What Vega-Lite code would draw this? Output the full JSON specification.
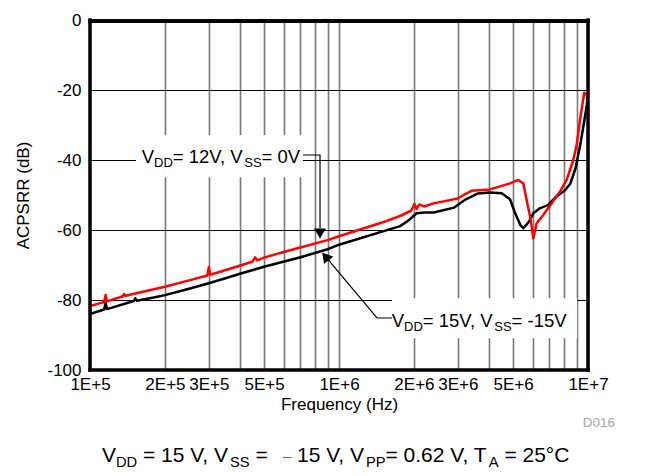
{
  "$schema": "https://vega.github.io/schema/vega-lite/v6.json",
  "width": 498,
  "height": 350,
  "autosize": {"type": "none"},
  "padding": {"left": 90, "top": 20, "right": 59, "bottom": 106},
  "background": "white",
  "config": {
    "font": "Liberation Sans",
    "view": {"stroke": null}
  },
  "datasets": {
    "one": [{}],
    "curves": [
      {"s": "r", "f": 100000, "db": -81.7},
      {"s": "r", "f": 110000, "db": -80.9},
      {"s": "r", "f": 114000, "db": -80.6},
      {"s": "r", "f": 115500, "db": -78.6},
      {"s": "r", "f": 117000, "db": -80.4},
      {"s": "r", "f": 135000, "db": -79.0},
      {"s": "r", "f": 137000, "db": -78.3},
      {"s": "r", "f": 139000, "db": -78.8},
      {"s": "r", "f": 160000, "db": -77.8},
      {"s": "r", "f": 200000, "db": -76.2},
      {"s": "r", "f": 250000, "db": -74.4},
      {"s": "r", "f": 296000, "db": -73.0},
      {"s": "r", "f": 300000, "db": -70.6},
      {"s": "r", "f": 304000, "db": -72.8},
      {"s": "r", "f": 400000, "db": -70.2},
      {"s": "r", "f": 450000, "db": -69.0},
      {"s": "r", "f": 460000, "db": -67.8},
      {"s": "r", "f": 470000, "db": -68.7},
      {"s": "r", "f": 500000, "db": -67.9},
      {"s": "r", "f": 600000, "db": -66.3},
      {"s": "r", "f": 700000, "db": -65.0},
      {"s": "r", "f": 900000, "db": -62.9},
      {"s": "r", "f": 1000000, "db": -61.8},
      {"s": "r", "f": 1500000, "db": -57.8},
      {"s": "r", "f": 1760000, "db": -56.0},
      {"s": "r", "f": 1950000, "db": -54.5},
      {"s": "r", "f": 2010000, "db": -52.6},
      {"s": "r", "f": 2050000, "db": -54.0},
      {"s": "r", "f": 2100000, "db": -52.7},
      {"s": "r", "f": 2200000, "db": -53.3},
      {"s": "r", "f": 2400000, "db": -52.4},
      {"s": "r", "f": 3000000, "db": -51.0},
      {"s": "r", "f": 3200000, "db": -49.8},
      {"s": "r", "f": 3410000, "db": -48.8},
      {"s": "r", "f": 4040000, "db": -48.4},
      {"s": "r", "f": 4860000, "db": -46.7},
      {"s": "r", "f": 5250000, "db": -45.7},
      {"s": "r", "f": 5500000, "db": -46.7},
      {"s": "r", "f": 5670000, "db": -51.4},
      {"s": "r", "f": 5890000, "db": -57.1},
      {"s": "r", "f": 6030000, "db": -62.4},
      {"s": "r", "f": 6220000, "db": -58.1},
      {"s": "r", "f": 6610000, "db": -55.7},
      {"s": "r", "f": 7140000, "db": -52.4},
      {"s": "r", "f": 7720000, "db": -49.0},
      {"s": "r", "f": 8210000, "db": -45.7},
      {"s": "r", "f": 8730000, "db": -40.0},
      {"s": "r", "f": 9010000, "db": -35.5},
      {"s": "r", "f": 9290000, "db": -28.5},
      {"s": "r", "f": 9660000, "db": -20.8},
      {"s": "r", "f": 9880000, "db": -21.4},
      {"s": "r", "f": 10000000, "db": -24.0},
      {"s": "b", "f": 100000, "db": -84.0},
      {"s": "b", "f": 114000, "db": -82.7},
      {"s": "b", "f": 115500, "db": -80.8},
      {"s": "b", "f": 117000, "db": -82.6},
      {"s": "b", "f": 150000, "db": -80.3},
      {"s": "b", "f": 152000, "db": -79.5},
      {"s": "b", "f": 154000, "db": -80.2},
      {"s": "b", "f": 180000, "db": -79.3},
      {"s": "b", "f": 200000, "db": -78.6},
      {"s": "b", "f": 250000, "db": -76.8},
      {"s": "b", "f": 300000, "db": -75.2},
      {"s": "b", "f": 350000, "db": -73.8},
      {"s": "b", "f": 400000, "db": -72.5},
      {"s": "b", "f": 500000, "db": -70.5},
      {"s": "b", "f": 700000, "db": -67.8},
      {"s": "b", "f": 900000, "db": -65.5},
      {"s": "b", "f": 1000000, "db": -64.2},
      {"s": "b", "f": 1760000, "db": -58.9},
      {"s": "b", "f": 1900000, "db": -57.3},
      {"s": "b", "f": 2050000, "db": -55.2},
      {"s": "b", "f": 2200000, "db": -55.0},
      {"s": "b", "f": 2400000, "db": -55.0},
      {"s": "b", "f": 2900000, "db": -53.6},
      {"s": "b", "f": 3200000, "db": -51.4},
      {"s": "b", "f": 3600000, "db": -49.6},
      {"s": "b", "f": 4040000, "db": -49.3},
      {"s": "b", "f": 4500000, "db": -49.5},
      {"s": "b", "f": 4860000, "db": -51.2},
      {"s": "b", "f": 5100000, "db": -55.2},
      {"s": "b", "f": 5350000, "db": -58.6},
      {"s": "b", "f": 5500000, "db": -59.5},
      {"s": "b", "f": 5800000, "db": -57.6},
      {"s": "b", "f": 6030000, "db": -55.2},
      {"s": "b", "f": 6400000, "db": -53.8},
      {"s": "b", "f": 6900000, "db": -52.9},
      {"s": "b", "f": 7450000, "db": -50.5},
      {"s": "b", "f": 8100000, "db": -48.6},
      {"s": "b", "f": 8500000, "db": -46.7},
      {"s": "b", "f": 8900000, "db": -42.5},
      {"s": "b", "f": 9290000, "db": -36.0},
      {"s": "b", "f": 9600000, "db": -30.0},
      {"s": "b", "f": 9880000, "db": -24.5},
      {"s": "b", "f": 10000000, "db": -21.5}
    ],
    "boxes": [
      {"f1": 153000, "f2": 717000, "db1": -32.9, "db2": -44.9},
      {"f1": 1633000, "f2": 9040000, "db1": -79.5, "db2": -90.9}
    ],
    "leaders": [
      {"id": 1, "o": 0, "f": 717000, "db": -38.57},
      {"id": 1, "o": 1, "f": 839000, "db": -38.57},
      {"id": 1, "o": 2, "f": 839000, "db": -59.5},
      {"id": 2, "o": 0, "f": 1633000, "db": -85.14},
      {"id": 2, "o": 1, "f": 1421000, "db": -85.14},
      {"id": 2, "o": 2, "f": 882000, "db": -67.54}
    ],
    "frame": [
      {"f1": 10000000, "f2": 10000000, "db1": 0, "db2": -100},
      {"f1": 100000, "f2": 10000000, "db1": -100, "db2": -100},
      {"f1": 100000, "f2": 100000, "db1": 0, "db2": -100}
    ],
    "frametop": [
      {"f1": 100000, "f2": 10000000, "db1": -0.3, "db2": -0.3}
    ]
  },
  "layer": [
    {
      "data": {"name": "curves"},
      "transform": [{"filter": "datum.s == 'b'"}],
      "mark": {"type": "line", "color": "#000", "strokeWidth": 2.5, "strokeJoin": "round"},
      "encoding": {
        "x": {
          "field": "f", "type": "quantitative", "title": "Frequency (Hz)",
          "scale": {"type": "log", "domain": [100000, 10000000]},
          "axis": {
            "values": [100000, 200000, 300000, 400000, 500000, 600000, 700000, 800000, 900000, 1000000, 2000000, 3000000, 4000000, 5000000, 6000000, 7000000, 8000000, 9000000, 10000000],
            "labelExpr": "test(regexp('^[1235]e'), format(datum.value, '.0e')) ? upper(format(datum.value, '.0e')) : ''",
            "labelOverlap": false, "labelFlush": false, "ticks": false, "domain": false,
            "grid": true, "gridColor": "#777777", "gridWidth": 1.6,
            "labelFontSize": 17, "labelColor": "#000", "labelPadding": 6,
            "titleFontSize": 17, "titleFontWeight": "normal", "titleColor": "#000", "titlePadding": 4
          }
        },
        "y": {
          "field": "db", "type": "quantitative", "title": "ACPSRR (dB)",
          "scale": {"domain": [-100, 0], "nice": false},
          "axis": {
            "values": [-100, -80, -60, -40, -20, 0],
            "labelExpr": "'' + datum.value",
            "ticks": false, "domain": false, "labelFlush": false,
            "grid": true, "gridColor": "#000", "gridWidth": 1,
            "labelFontSize": 17, "labelColor": "#000", "labelPadding": 9,
            "titleFontSize": 17, "titleFontWeight": "normal", "titleColor": "#000", "titlePadding": 14
          }
        }
      }
    },
    {
      "data": {"name": "curves"},
      "transform": [{"filter": "datum.s == 'r'"}],
      "mark": {"type": "line", "color": "#ff0000", "strokeWidth": 2.5, "strokeJoin": "round"},
      "encoding": {
        "x": {"field": "f", "type": "quantitative", "title": "Frequency (Hz)"},
        "y": {"field": "db", "type": "quantitative", "title": "ACPSRR (dB)"}
      }
    },
    {
      "data": {"name": "boxes"},
      "mark": {"type": "rect", "color": "#fff"},
      "encoding": {
        "x": {"field": "f1", "type": "quantitative", "title": "Frequency (Hz)"},
        "x2": {"field": "f2"},
        "y": {"field": "db1", "type": "quantitative", "title": "ACPSRR (dB)"},
        "y2": {"field": "db2"}
      }
    },
    {
      "data": {"name": "leaders"},
      "mark": {"type": "line", "color": "#000", "strokeWidth": 1.2},
      "encoding": {
        "x": {"field": "f", "type": "quantitative", "title": "Frequency (Hz)"},
        "y": {"field": "db", "type": "quantitative", "title": "ACPSRR (dB)"},
        "detail": {"field": "id"},
        "order": {"field": "o"}
      }
    },
    {
      "data": {"name": "frame"},
      "mark": {"type": "rule", "color": "#000", "strokeWidth": 3.5, "strokeCap": "square", "clip": false},
      "encoding": {
        "x": {"field": "f1", "type": "quantitative", "title": "Frequency (Hz)"},
        "x2": {"field": "f2"},
        "y": {"field": "db1", "type": "quantitative", "title": "ACPSRR (dB)"},
        "y2": {"field": "db2"}
      }
    },
    {
      "data": {"name": "frametop"},
      "mark": {"type": "rule", "color": "#000", "strokeWidth": 4, "strokeCap": "square", "clip": false},
      "encoding": {
        "x": {"field": "f1", "type": "quantitative", "title": "Frequency (Hz)"},
        "x2": {"field": "f2"},
        "y": {"field": "db1", "type": "quantitative", "title": "ACPSRR (dB)"}
      }
    },
    {
      "data": {"name": "one"},
      "mark": {"type": "point", "shape": "triangle-down", "filled": true, "color": "#000", "size": 140, "opacity": 1},
      "encoding": {"x": {"datum": 839000}, "y": {"datum": -61.0}}
    },
    {
      "data": {"name": "one"},
      "mark": {"type": "point", "shape": "triangle-up", "filled": true, "color": "#000", "size": 140, "opacity": 1, "angle": -38.5},
      "encoding": {"x": {"datum": 882000}, "y": {"datum": -67.54}}
    },
    {"data": {"name": "one"}, "mark": {"type": "text", "text": "V", "align": "left", "baseline": "alphabetic", "fontSize": 18.5, "dx": 0}, "encoding": {"x": {"datum": 161300}, "y": {"datum": -40.86}}},
    {"data": {"name": "one"}, "mark": {"type": "text", "text": "DD", "align": "left", "baseline": "alphabetic", "fontSize": 13, "dx": 12.3, "dy": 4}, "encoding": {"x": {"datum": 161300}, "y": {"datum": -40.86}}},
    {"data": {"name": "one"}, "mark": {"type": "text", "text": "= 12V, V", "align": "left", "baseline": "alphabetic", "fontSize": 18.5, "dx": 31.1}, "encoding": {"x": {"datum": 161300}, "y": {"datum": -40.86}}},
    {"data": {"name": "one"}, "mark": {"type": "text", "text": "SS", "align": "left", "baseline": "alphabetic", "fontSize": 13, "dx": 102.6, "dy": 4}, "encoding": {"x": {"datum": 161300}, "y": {"datum": -40.86}}},
    {"data": {"name": "one"}, "mark": {"type": "text", "text": "= 0V", "align": "left", "baseline": "alphabetic", "fontSize": 18.5, "dx": 119.9}, "encoding": {"x": {"datum": 161300}, "y": {"datum": -40.86}}},
    {"data": {"name": "one"}, "mark": {"type": "text", "text": "V", "align": "left", "baseline": "alphabetic", "fontSize": 18.5, "dx": 0}, "encoding": {"x": {"datum": 1628000}, "y": {"datum": -87.63}}},
    {"data": {"name": "one"}, "mark": {"type": "text", "text": "DD", "align": "left", "baseline": "alphabetic", "fontSize": 13, "dx": 12.3, "dy": 4}, "encoding": {"x": {"datum": 1628000}, "y": {"datum": -87.63}}},
    {"data": {"name": "one"}, "mark": {"type": "text", "text": "= 15V, V", "align": "left", "baseline": "alphabetic", "fontSize": 18.5, "dx": 31.1}, "encoding": {"x": {"datum": 1628000}, "y": {"datum": -87.63}}},
    {"data": {"name": "one"}, "mark": {"type": "text", "text": "SS", "align": "left", "baseline": "alphabetic", "fontSize": 13, "dx": 102.6, "dy": 4}, "encoding": {"x": {"datum": 1628000}, "y": {"datum": -87.63}}},
    {"data": {"name": "one"}, "mark": {"type": "text", "text": "= -15V", "align": "left", "baseline": "alphabetic", "fontSize": 18.5, "dx": 119.9}, "encoding": {"x": {"datum": 1628000}, "y": {"datum": -87.63}}},
    {"data": {"name": "one"}, "mark": {"type": "text", "text": "V", "align": "left", "baseline": "alphabetic", "fontSize": 21, "dx": 0}, "encoding": {"x": {"datum": 111740}, "y": {"datum": -126.29}}},
    {"data": {"name": "one"}, "mark": {"type": "text", "text": "DD", "align": "left", "baseline": "alphabetic", "fontSize": 14.7, "dx": 14, "dy": 5}, "encoding": {"x": {"datum": 111740}, "y": {"datum": -126.29}}},
    {"data": {"name": "one"}, "mark": {"type": "text", "text": "= 15 V, V", "align": "left", "baseline": "alphabetic", "fontSize": 21, "dx": 41}, "encoding": {"x": {"datum": 111740}, "y": {"datum": -126.29}}},
    {"data": {"name": "one"}, "mark": {"type": "text", "text": "SS", "align": "left", "baseline": "alphabetic", "fontSize": 14.7, "dx": 128, "dy": 5}, "encoding": {"x": {"datum": 111740}, "y": {"datum": -126.29}}},
    {"data": {"name": "one"}, "mark": {"type": "text", "text": "=", "align": "left", "baseline": "alphabetic", "fontSize": 21, "dx": 153.4}, "encoding": {"x": {"datum": 111740}, "y": {"datum": -126.29}}},
    {"data": {"name": "one"}, "mark": {"type": "text", "text": "–", "align": "left", "baseline": "alphabetic", "fontSize": 15, "dx": 181, "dy": -1, "color": "#666"}, "encoding": {"x": {"datum": 111740}, "y": {"datum": -126.29}}},
    {"data": {"name": "one"}, "mark": {"type": "text", "text": "15 V, V", "align": "left", "baseline": "alphabetic", "fontSize": 21, "dx": 195}, "encoding": {"x": {"datum": 111740}, "y": {"datum": -126.29}}},
    {"data": {"name": "one"}, "mark": {"type": "text", "text": "PP", "align": "left", "baseline": "alphabetic", "fontSize": 14.7, "dx": 263.9, "dy": 5}, "encoding": {"x": {"datum": 111740}, "y": {"datum": -126.29}}},
    {"data": {"name": "one"}, "mark": {"type": "text", "text": "= 0.62 V, T", "align": "left", "baseline": "alphabetic", "fontSize": 21, "dx": 283.5}, "encoding": {"x": {"datum": 111740}, "y": {"datum": -126.29}}},
    {"data": {"name": "one"}, "mark": {"type": "text", "text": "A", "align": "left", "baseline": "alphabetic", "fontSize": 14.7, "dx": 386.8, "dy": 5}, "encoding": {"x": {"datum": 111740}, "y": {"datum": -126.29}}},
    {"data": {"name": "one"}, "mark": {"type": "text", "text": "= 25°C", "align": "left", "baseline": "alphabetic", "fontSize": 21, "dx": 402.4}, "encoding": {"x": {"datum": 111740}, "y": {"datum": -126.29}}},
    {"data": {"name": "one"}, "mark": {"type": "text", "text": "D016", "align": "right", "baseline": "alphabetic", "fontSize": 13.5, "color": "#aaaaaa"}, "encoding": {"x": {"datum": 12840000}, "y": {"datum": -116.3}}}
  ]
}
